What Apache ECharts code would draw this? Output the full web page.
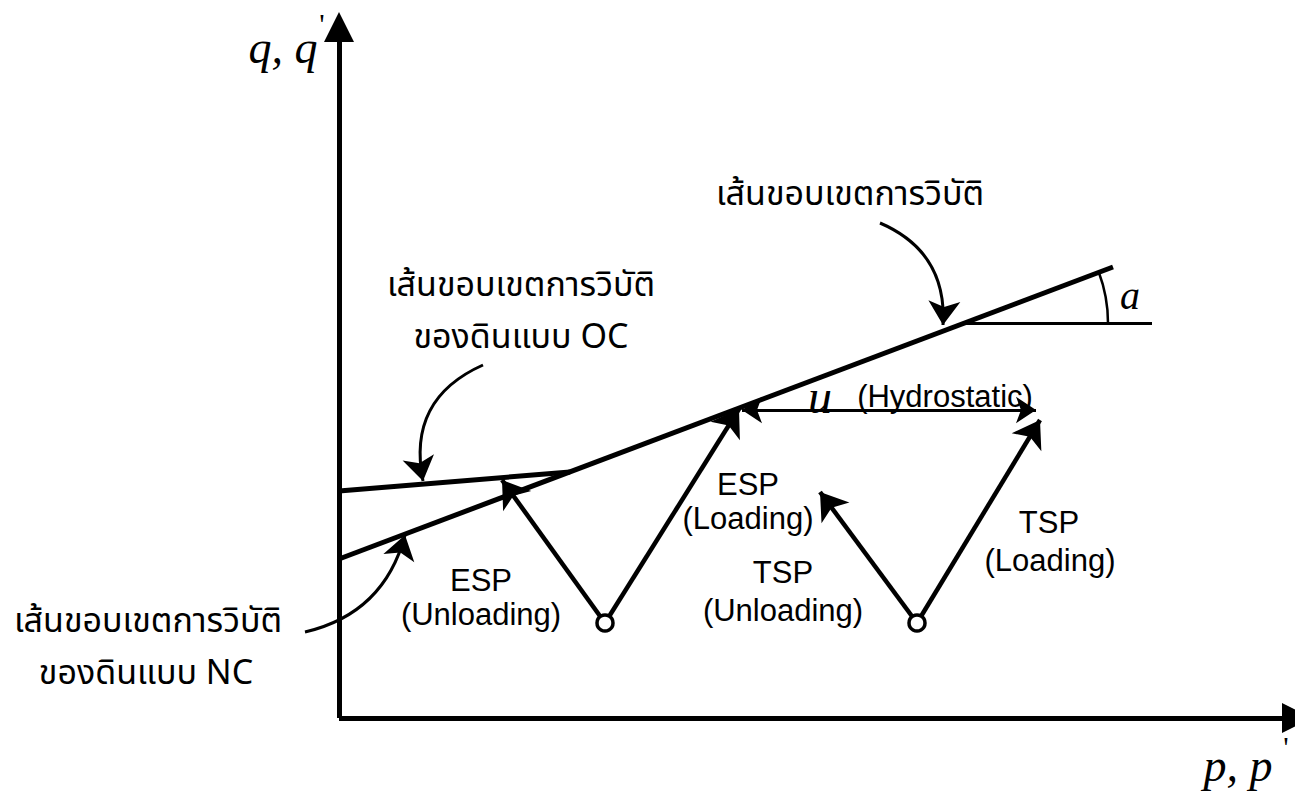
<!DOCTYPE html>
<html>
<head>
<meta charset="utf-8">
<script src="https://cdn.jsdelivr.net/npm/echarts@6/dist/echarts.min.js"></script>
<style>html,body{margin:0;padding:0;background:#fff}#c{width:1295px;height:793px}</style>
</head>
<body>
<div id="c"></div>
<script>
// Diagram coordinates: p (horizontal) and q (vertical), origin at the axes' corner.
const axisLines = [[[0, 0], [0, 691]], [[0, 0], [958, 0]]];
const ncEnvelope = [[0, 159], [774, 451]];
const ocEnvelope = [[0, 227], [231, 246]];
const angleRefLine = [[624, 395], [813, 395]];
const angleArc = { center: [624, 395], radius: 145, degrees: 20.7 };
const stressPaths = [
  [[266, 95], [163, 238]],   // ESP unloading
  [[266, 95], [400, 309]],   // ESP loading
  [[578, 95], [481, 226]],   // TSP unloading
  [[578, 95], [701, 298]]    // TSP loading
];
const startPoints = [[266, 95], [578, 95]];
const hydrostatic = [[403, 308], [697, 308]];
const pointerArrows = [
  { from: [541, 495], to: [604, 393], bend: 0.35 },
  { from: [144, 353], to: [84, 237], bend: -0.4 },
  { from: [-34, 86], to: [66, 183], bend: -0.3 }
];
const thaiTexts = ['เส้นขอบเขตการวิบัติ', 'เส้นขอบเขตการวิบัติ', 'ของดินแบบ OC', 'เส้นขอบเขตการวิบัติ', 'ของดินแบบ NC'];
const thaiAt = [[511, 524], [182, 433], [182, 381], [-191, 97], [-193, 45]];
const pathTexts = ['ESP', '(Unloading)', 'ESP', '(Loading)', 'TSP', '(Unloading)', 'TSP', '(Loading)', '(Hydrostatic)'];
const pathTextAt = [[142, 138], [142, 104], [409, 234], [409, 200], [444, 146], [444, 108], [710, 196], [711, 158], [606, 322]];
const axisNames = ['q, q', 'p, p'];
const axisNameAt = [[-56, 671], [899, -47]];
const primeTexts = ['\'', '\''];
const primeAt = [[-17, 695], [947, -28]];
const symbolTexts = ['u'];
const symbolAt = [[481, 322]];
const angleTexts = ['a'];
const angleTextAt = [[791, 423]];

const thaiFont = '"Noto Sans Thai", "Noto Sans Thai UI", "Noto Sans", "DejaVu Sans", sans-serif';
const sansFont = '"Liberation Sans", Arial, sans-serif';
const serifFont = '"Liberation Serif", "Times New Roman", serif';

function textSeries(texts, at, label) {
  return {
    type: 'scatter', symbolSize: 1, itemStyle: { color: 'rgba(0,0,0,0)', opacity: 1 }, silent: true, z: 10,
    data: texts.map((t, i) => ({ name: t, value: at[i] })),
    label: Object.assign({ show: true, position: 'inside', formatter: p => p.name, color: '#000' }, label)
  };
}

const option = {
  animation: false,
  backgroundColor: '#fff',
  grid: { left: 0, right: 0, top: 0, bottom: 0 },
  xAxis: { type: 'value', min: -339, max: 956, show: false },
  yAxis: { type: 'value', min: -75, max: 718, show: false },
  series: [
    { type: 'lines', coordinateSystem: 'cartesian2d', clip: false, symbol: ['none', 'triangle'], symbolSize: 30,
      lineStyle: { color: '#000', width: 5, opacity: 1 },
      data: axisLines.map(c => ({ coords: c })) },
    { type: 'lines', coordinateSystem: 'cartesian2d', symbol: 'none',
      lineStyle: { color: '#000', width: 5, opacity: 1 },
      data: [{ coords: ncEnvelope }, { coords: ocEnvelope }] },
    { type: 'lines', coordinateSystem: 'cartesian2d', symbol: 'none',
      lineStyle: { color: '#000', width: 3, opacity: 1 },
      data: [{ coords: angleRefLine }] },
    { type: 'custom', coordinateSystem: 'cartesian2d', silent: true,
      data: [angleArc.center],
      renderItem: (params, api) => {
        const c = api.coord(angleArc.center);
        const r = api.size([angleArc.radius, 0])[0];
        return { type: 'arc', shape: { cx: c[0], cy: c[1], r: r, startAngle: -angleArc.degrees * Math.PI / 180, endAngle: 0, clockwise: true },
          style: { stroke: '#000', lineWidth: 2.5, fill: 'none' } };
      } },
    { type: 'lines', coordinateSystem: 'cartesian2d', symbol: ['none', 'arrow'], symbolSize: 26,
      lineStyle: { color: '#000', width: 4.5, opacity: 1 },
      data: stressPaths.map(c => ({ coords: c })) },
    { type: 'lines', coordinateSystem: 'cartesian2d', symbol: ['arrow', 'arrow'], symbolSize: 20,
      lineStyle: { color: '#000', width: 3, opacity: 1 },
      data: [{ coords: hydrostatic }] },
    { type: 'lines', coordinateSystem: 'cartesian2d', symbol: ['none', 'arrow'], symbolSize: 24,
      lineStyle: { color: '#000', width: 3, opacity: 1 },
      data: pointerArrows.map(a => ({ coords: [a.from, a.to], lineStyle: { curveness: a.bend } })) },
    { type: 'scatter', symbol: 'circle', symbolSize: 16, z: 5,
      itemStyle: { color: '#fff', borderColor: '#000', borderWidth: 3.5, opacity: 1 },
      data: startPoints },
    textSeries(thaiTexts, thaiAt, { fontFamily: thaiFont, fontSize: 34 }),
    textSeries(pathTexts, pathTextAt, { fontFamily: sansFont, fontSize: 31 }),
    textSeries(axisNames, axisNameAt, { fontFamily: serifFont, fontStyle: 'italic', fontSize: 46 }),
    textSeries(symbolTexts, symbolAt, { fontFamily: serifFont, fontStyle: 'italic', fontSize: 48 }),
    textSeries(angleTexts, angleTextAt, { fontFamily: serifFont, fontStyle: 'italic', fontSize: 40 }),
    textSeries(primeTexts, primeAt, { fontFamily: serifFont, fontSize: 30 })
  ]
};
const chart = echarts.init(document.getElementById('c'), null, { renderer: 'svg' });
chart.setOption(option);
</script>
</body>
</html>
